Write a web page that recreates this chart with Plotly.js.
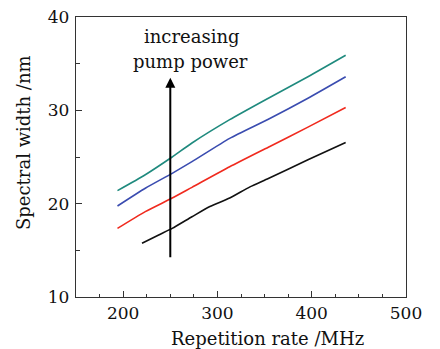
<!DOCTYPE html>
<html>
<head>
<meta charset="utf-8">
<script src="https://cdn.plot.ly/plotly-3.0.1.min.js"></script>
<style>html,body{margin:0;padding:0;background:#fff;}#chart{width:440px;height:349px;}</style>
</head>
<body>
<div id="chart"></div>
<script>
// Data
const tealX  = [194, 223.5, 252, 273, 313, 354, 396, 436];
const tealY  = [21.4, 23.1, 25.0, 26.5, 29.0, 31.3, 33.6, 35.9];
const blueX  = [194, 223.5, 252, 273, 313, 354, 396, 436];
const blueY  = [19.75, 21.65, 23.25, 24.5, 27.0, 29.05, 31.3, 33.6];
const redX   = [194, 223.5, 252, 273, 313, 354, 396, 436];
const redY   = [17.35, 19.15, 20.6, 21.75, 23.95, 26.05, 28.2, 30.3];
const blackX = [220, 237.7, 252, 273, 292, 313, 334.5, 354, 396, 436];
const blackY = [15.75, 16.65, 17.35, 18.6, 19.7, 20.6, 21.8, 22.7, 24.7, 26.55];

const xTicks = [200, 300, 400, 500];
const yTicks = [10, 20, 30, 40];
const xTitle = "Repetition rate /MHz";
const yTitle = "Spectral width /nm";
const noteLine1 = "increasing";
const noteLine2 = "pump power";
const arrowX = 250, arrowFrom = 14.1, arrowTo = 33.5;

const FONT = "DejaVu Serif";

const mk = (x, y, c) => ({x, y, type: 'scatter', mode: 'lines',
  line: {color: c, width: 1.6, shape: 'spline', smoothing: 0.6}, hoverinfo: 'skip'});
const data = [
  mk(blackX, blackY, '#111111'),
  mk(redX, redY, '#f02a1e'),
  mk(blueX, blueY, '#3a4cb0'),
  mk(tealX, tealY, '#1f8a7e')
];

const axisCommon = {
  showgrid: false, zeroline: false, showline: true, mirror: true,
  linecolor: '#333', linewidth: 1.2,
  ticks: 'inside', ticklen: 6, tickwidth: 1, tickcolor: '#333',
  tickfont: {family: FONT, size: 17, color: '#111'},
  minor: {ticks: 'inside', ticklen: 3.5, tickwidth: 1, tickcolor: '#333'}
};

const layout = {
  width: 440, height: 349,
  margin: {l: 76, r: 34, t: 17, b: 52},
  paper_bgcolor: '#fff', plot_bgcolor: '#fff',
  showlegend: false,
  font: {family: FONT, color: '#111'},
  xaxis: Object.assign({}, axisCommon, {
    range: [150, 500], tickvals: xTicks, ticktext: xTicks.map(String),
    minor: Object.assign({}, axisCommon.minor, {dtick: 25, tick0: 150}),
    ticklabelstandoff: 0
  }),
  yaxis: Object.assign({}, axisCommon, {
    range: [10, 40], tickvals: yTicks, ticktext: yTicks.map(String),
    minor: Object.assign({}, axisCommon.minor, {dtick: 5, tick0: 10}),
    ticklabelstandoff: 2
  }),
  annotations: [
    {xref: 'x', yref: 'y', x: arrowX, y: arrowTo, axref: 'x', ayref: 'y', ax: arrowX, ay: arrowFrom,
     showarrow: true, arrowhead: 2, arrowsize: 1, arrowwidth: 2, arrowcolor: '#000', text: ''},
    {xref: 'paper', yref: 'paper', x: (192 - 76) / 330, y: (297 - 37) / 280, xanchor: 'center', yanchor: 'middle',
     showarrow: false, text: noteLine1, font: {family: FONT, size: 18, color: '#111'}},
    {xref: 'paper', yref: 'paper', x: (190.5 - 76) / 330, y: (297 - 62) / 280, xanchor: 'center', yanchor: 'middle',
     showarrow: false, text: noteLine2, font: {family: FONT, size: 18, color: '#111'}},
    {xref: 'paper', yref: 'paper', x: (267.5 - 76) / 330, y: (297 - 338) / 280, xanchor: 'center', yanchor: 'middle',
     showarrow: false, text: xTitle, font: {family: FONT, size: 18, color: '#111'}},
    {xref: 'paper', yref: 'paper', x: (23 - 76) / 330, y: (297 - 143) / 280, xanchor: 'center', yanchor: 'middle',
     showarrow: false, textangle: -90, text: yTitle, font: {family: FONT, size: 18, color: '#111'}}
  ]
};

Plotly.newPlot('chart', data, layout, {staticPlot: true, displayModeBar: false});
</script>
</body>
</html>
